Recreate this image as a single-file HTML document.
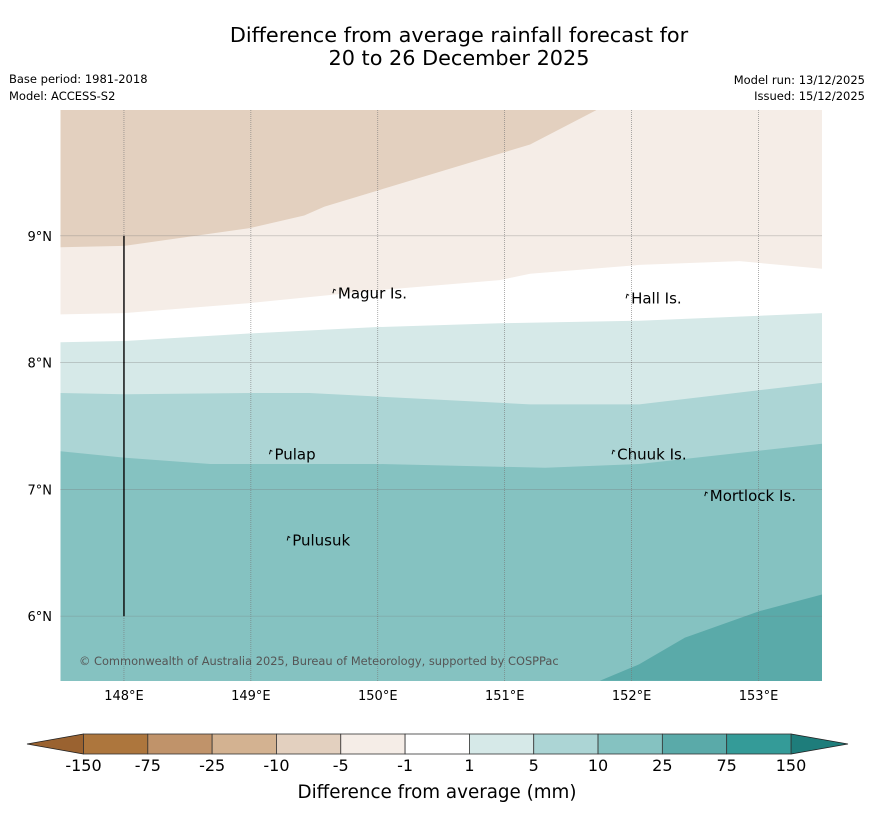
<!DOCTYPE html>
<html><head><meta charset="utf-8"><style>
body{margin:0;background:#fff;font-family:"Liberation Sans","DejaVu Sans",sans-serif}
svg{display:block}
</style></head><body>
<svg id="chart" width="873" height="816" viewBox="0 0 873 816" font-family="'DejaVu Sans','Liberation Sans',sans-serif">
<text x="459" y="42" font-size="20.8" text-anchor="middle">Difference from average rainfall forecast for</text>
<text x="459" y="65" font-size="20.8" text-anchor="middle">20 to 26 December 2025</text>
<text x="9" y="83" font-size="11.5">Base period: 1981-2018</text>
<text x="9" y="100" font-size="11.5">Model: ACCESS-S2</text>
<text x="865" y="84" font-size="11.5" text-anchor="end">Model run: 13/12/2025</text>
<text x="865" y="100" font-size="11.5" text-anchor="end">Issued: 15/12/2025</text>
<g id="map"></g>
<g id="cbar"></g>
<text x="437" y="798" font-size="18.3" text-anchor="middle">Difference from average (mm)</text>
</svg>
<script>
const lonTicks=[148,149,150,151,152,153];
const latTicks=[6,7,8,9];
const bandA=[[147.5,8.91],[148.0,8.92],[148.99,9.06],[149.42,9.16],[149.58,9.23],[151.2,9.72],[151.72,9.99]];
const bandB=[[147.5,8.38],[148.0,8.39],[149.0,8.47],[150.0,8.57],[150.96,8.65],[151.2,8.70],[152.06,8.77],[152.85,8.80],[153.5,8.74]];
const bandC=[[147.5,8.16],[148.0,8.17],[149.0,8.23],[150.0,8.28],[150.96,8.31],[152.06,8.33],[153.5,8.39]];
const bandD=[[147.5,7.76],[148.0,7.75],[149.0,7.76],[149.46,7.76],[151.2,7.67],[152.06,7.67],[153.5,7.84]];
const bandE=[[147.5,7.30],[148.0,7.25],[148.68,7.20],[150.0,7.20],[151.32,7.17],[152.06,7.20],[153.5,7.36]];
const bandF=[[151.75,5.49],[152.06,5.62],[152.42,5.83],[153.01,6.04],[153.5,6.17]];
const islands=[["Magur Is.",149.67,8.57],["Hall Is.",151.98,8.53],["Pulap",149.17,7.30],["Chuuk Is.",151.87,7.30],["Mortlock Is.",152.6,6.97],["Pulusuk",149.31,6.62]];
const cbLabels=["-150","-75","-25","-10","-5","-1","1","5","10","25","75","150"];
const cbColors=["#ad763d","#c0936a","#d3b291","#e3d0bf","#f5ede7","#ffffff","#d6e9e8","#acd5d5","#85c2c1","#5aaaa9","#349b98"];
const ns="http://www.w3.org/2000/svg";
const X0=60.5,X1=822,Y0=110,Y1=681;
const lonMin=147.5,lonMax=153.5,latMax=9.9921,latMin=5.4882;
const xs=l=>X0+(l-lonMin)/(lonMax-lonMin)*(X1-X0);
const ys=l=>Y0+(latMax-l)/(latMax-latMin)*(Y1-Y0);
function mk(t,a,p){const e=document.createElementNS(ns,t);for(const k in a)e.setAttribute(k,a[k]);p.appendChild(e);return e;}
const map=document.getElementById('map');
let r=mk('rect',{x:X0,y:Y0,width:X1-X0,height:Y1-Y0,fill:"#85c2c1"},map);


function topPoly(b,col,name){const pts=b.map(p=>xs(p[0])+","+ys(p[1]));const last=b[b.length-1];
 let s=pts.join(" ");
 if(ys(last[1])>Y0+0.5) s+=" "+X1+","+Y0; else s+=" "+xs(last[0])+","+Y0;
 s+=" "+X0+","+Y0;
 const e=mk('polygon',{points:s,fill:col},map);
 
 }
topPoly(bandE,"#acd5d5","band-5-10");
topPoly(bandD,"#d6e9e8","band-1-5");
topPoly(bandC,"#ffffff","band-neutral");
topPoly(bandB,"#f5ede7","band-minus5-minus1");
topPoly(bandA,"#e3d0bf","band-minus10-minus5");
{const s=bandF.map(p=>xs(p[0])+","+ys(p[1])).join(" ")+" "+X1+","+Y1;
 const e=mk('polygon',{points:s,fill:"#5aaaa9"},map);
 
 }
lonTicks.forEach(l=>{const x=xs(l);
 const g=mk('line',{x1:x,x2:x,y1:Y0,y2:Y1,stroke:"#777","stroke-width":0.6,"stroke-dasharray":"1,1"},map);
 
 
 const t=mk('text',{x:x,y:700,"font-size":13,"text-anchor":"middle"},map);t.textContent=l+"°E";
 
 });
latTicks.forEach(l=>{const y=ys(l);
 const g=mk('line',{x1:X0,x2:X1,y1:y,y2:y,stroke:"#777","stroke-width":0.6,"stroke-dasharray":"1,1"},map);
 
 
 const t=mk('text',{x:52,y:y+5,"font-size":13,"text-anchor":"end"},map);t.textContent=l+"°N";
 
 });
{const v=mk('line',{x1:xs(148),x2:xs(148),y1:ys(9),y2:ys(6),stroke:"#111","stroke-width":1.5},map);
 
 }
islands.forEach(d=>{const x=xs(d[1]),y=ys(d[2]);
 const m=mk('path',{d:`M${x-3},${y+3} l1,-4 l2,1`,stroke:"#000","stroke-width":1,fill:"none"},map);
 
 
 const t=mk('text',{x:x+2,y:y+8,"font-size":15},map);t.textContent=d[0];
 
 });
{const t=mk('text',{x:79,y:665,"font-size":11.4,fill:"#555"},map);t.textContent="© Commonwealth of Australia 2025, Bureau of Meteorology, supported by COSPPac";
 
 }
const cb=document.getElementById('cbar');
const cx0=83.5,cx1=791,cy0=734,cy1=754,w=(cx1-cx0)/cbColors.length;
{const a=mk('polygon',{points:`27,744 ${cx0},${cy0} ${cx0},${cy1}`,fill:"#9a6230",stroke:"#222","stroke-width":0.8},cb);
 
 
 const b=mk('polygon',{points:`848,744 ${cx1},${cy0} ${cx1},${cy1}`,fill:"#1e7d7b",stroke:"#222","stroke-width":0.8},cb);
 
 }
cbColors.forEach((c,i)=>{const e=mk('rect',{x:cx0+i*w,y:cy0,width:w,height:cy1-cy0,fill:c,stroke:"#333","stroke-width":0.8},cb);
 
 });
cbLabels.forEach((s,i)=>{const t=mk('text',{x:cx0+i*w,y:771,"font-size":16,"text-anchor":"middle"},cb);t.textContent=s;
 
 });
</script>
</body></html>
